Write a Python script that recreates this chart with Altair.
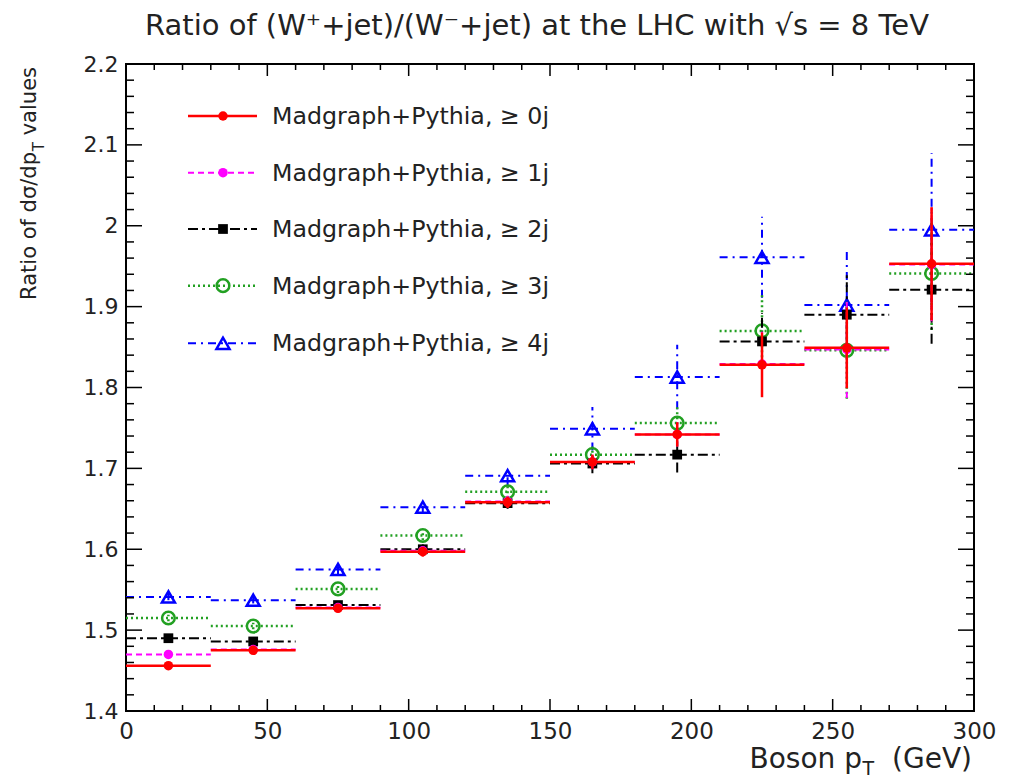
import altair as alt
import pandas as pd

# ---------------- data ----------------
bin_lo = [0, 30, 60, 90, 120, 150, 180, 210, 240, 270]
bin_hi = [30, 60, 90, 120, 150, 180, 210, 240, 270, 300]
bin_center = [15, 45, 75, 105, 135, 165, 195, 225, 255, 285]

labels = ["Madgraph+Pythia, ≥ 0j", "Madgraph+Pythia, ≥ 1j", "Madgraph+Pythia, ≥ 2j",
          "Madgraph+Pythia, ≥ 3j", "Madgraph+Pythia, ≥ 4j"]

ratio_0j = [1.456, 1.475, 1.527, 1.597, 1.658, 1.708, 1.742, 1.828, 1.849, 1.953]
err_0j = [0.004, 0.004, 0.005, 0.006, 0.007, 0.009, 0.015, 0.040, 0.050, 0.070]

ratio_1j = [1.470, 1.476, 1.528, 1.598, 1.659, 1.708, 1.742, 1.829, 1.847, 1.952]
err_1j = [0.004, 0.004, 0.005, 0.006, 0.007, 0.009, 0.015, 0.040, 0.060, 0.070]

ratio_2j = [1.490, 1.486, 1.531, 1.600, 1.657, 1.706, 1.717, 1.857, 1.890, 1.921]
err_2j = [0.004, 0.004, 0.005, 0.006, 0.007, 0.012, 0.022, 0.035, 0.050, 0.067]

ratio_3j = [1.515, 1.505, 1.551, 1.617, 1.671, 1.717, 1.756, 1.870, 1.846, 1.941]
err_3j = [0.004, 0.004, 0.005, 0.006, 0.008, 0.010, 0.020, 0.045, 0.060, 0.070]

ratio_4j = [1.541, 1.537, 1.575, 1.652, 1.691, 1.749, 1.813, 1.961, 1.902, 1.995]
err_4j = [0.004, 0.004, 0.006, 0.008, 0.012, 0.027, 0.040, 0.050, 0.068, 0.095]

x_major = [0, 50, 100, 150, 200, 250, 300]
x_minor = [10, 20, 30, 40, 60, 70, 80, 90, 110, 120, 130, 140, 160, 170, 180, 190,
           210, 220, 230, 240, 260, 270, 280, 290]
y_major = [1.4, 1.5, 1.6, 1.7, 1.8, 1.9, 2.0, 2.1, 2.2]
y_minor = [1.42, 1.44, 1.46, 1.48, 1.52, 1.54, 1.56, 1.58, 1.62, 1.64, 1.66, 1.68,
           1.72, 1.74, 1.76, 1.78, 1.82, 1.84, 1.86, 1.88, 1.92, 1.94, 1.96, 1.98,
           2.02, 2.04, 2.06, 2.08, 2.12, 2.14, 2.16, 2.18]

# ---------------- styles ----------------
W, H = 848, 647
FONT = "DejaVu Sans"

styles = [
    dict(vals=ratio_0j, errs=err_0j, color="#ff0000", dash=None, shape="circle", filled=True, size=90, sw=2.5),
    dict(vals=ratio_1j, errs=err_1j, color="#ff00ff", dash=[6, 4], shape="circle", filled=True, size=90, sw=2),
    dict(vals=ratio_2j, errs=err_2j, color="#000000", dash=[10, 4, 3, 4], shape="square", filled=True, size=95, sw=2),
    dict(vals=ratio_3j, errs=err_3j, color="#22a022", dash=[2, 3], shape="circle", filled=False, size=160, sw=2.5),
    dict(vals=ratio_4j, errs=err_4j, color="#0000ff", dash=[8, 5, 2, 5], shape="triangle-up", filled=False, size=170, sw=2),
]

xscale = alt.Scale(domain=[0, 300], nice=False, zero=False)
yscale = alt.Scale(domain=[1.4, 2.2], nice=False, zero=False)
XAX = alt.Axis(values=x_major, title=None, ticks=False, domain=False, grid=False, labelFlush=False,
               labelFontSize=23, labelFont=FONT, labelPadding=9, labelColor="#222")
YAX = alt.Axis(values=y_major, title=None, ticks=False, domain=False, grid=False, labelFlush=False,
               labelFontSize=22, labelFont=FONT, labelPadding=8, format=".1~f", labelColor="#222")


def X(f):
    return alt.X(f, scale=xscale, axis=XAX)


def Y(f):
    return alt.Y(f, scale=yscale, axis=YAX)


layers = []

# data series (drawn so that red ends on top)
for st in reversed(styles):
    df = pd.DataFrame({
        "lo": bin_lo, "hi": bin_hi, "x": bin_center, "y": st["vals"],
        "ylo": [v - e for v, e in zip(st["vals"], st["errs"])],
        "yhi": [v + e for v, e in zip(st["vals"], st["errs"])],
    })
    rk = dict(color=st["color"], strokeWidth=st["sw"])
    if st["dash"]:
        rk["strokeDash"] = st["dash"]
    hbar = alt.Chart(df).mark_rule(**rk).encode(x=X("lo:Q"), x2="hi:Q", y=Y("y:Q"))
    vbar = alt.Chart(df).mark_rule(**rk).encode(x=X("x:Q"), y=Y("ylo:Q"), y2="yhi:Q")
    pk = dict(shape=st["shape"], size=st["size"], opacity=1, strokeWidth=2.5,
              filled=st["filled"], color=st["color"])
    pts = alt.Chart(df).mark_point(**pk).encode(x=X("x:Q"), y=Y("y:Q"))
    layers += [hbar, vbar, pts]


# inward ticks on all four sides
def xticks(vals, length):
    df = pd.DataFrame({"t": vals})
    bot = alt.Chart(df).mark_rule(color="black", strokeWidth=1.5).encode(
        x=X("t:Q"), y=alt.value(H), y2=alt.value(H - length))
    top = alt.Chart(df).mark_rule(color="black", strokeWidth=1.5).encode(
        x=X("t:Q"), y=alt.value(0), y2=alt.value(length))
    return [bot, top]


def yticks(vals, length):
    df = pd.DataFrame({"t": vals})
    left = alt.Chart(df).mark_rule(color="black", strokeWidth=1.5).encode(
        y=Y("t:Q"), x=alt.value(0), x2=alt.value(length))
    right = alt.Chart(df).mark_rule(color="black", strokeWidth=1.5).encode(
        y=Y("t:Q"), x=alt.value(W), x2=alt.value(W - length))
    return [left, right]


layers += xticks(x_major, 12) + xticks(x_minor, 6) + yticks(y_major, 16) + yticks(y_minor, 8)

# legend
legend_rows = [52, 108.7, 165, 221.7, 279.3]
for st, lab, ry in zip(styles, labels, legend_rows):
    ldf = pd.DataFrame({"label": [lab]})
    rk = dict(color=st["color"], strokeWidth=st["sw"])
    if st["dash"]:
        rk["strokeDash"] = st["dash"]
    layers.append(alt.Chart(ldf).mark_rule(**rk).encode(
        x=alt.value(62), x2=alt.value(131), y=alt.value(ry)))
    pk = dict(shape=st["shape"], size=st["size"], opacity=1, strokeWidth=2.5,
              filled=st["filled"], color=st["color"])
    layers.append(alt.Chart(ldf).mark_point(**pk).encode(x=alt.value(97), y=alt.value(ry)))
    layers.append(alt.Chart(ldf).mark_text(align="left", baseline="middle", font=FONT,
                                           fontSize=23.7, color="#222").encode(
        x=alt.value(146), y=alt.value(ry + 1), text="label:N"))


# titles as text
def txt(s, x, y, size, align="center", baseline="alphabetic", angle=0):
    kw = dict(align=align, baseline=baseline, font=FONT, fontSize=size, color="#222")
    if angle:
        kw["angle"] = angle
    return alt.Chart(pd.DataFrame({"s": [s]})).mark_text(**kw).encode(
        x=alt.value(x), y=alt.value(y), text="s:N")


layers.append(txt("Ratio of (W⁺+jet)/(W⁻+jet) at the LHC with √s = 8 TeV", 411, -29, 29))
# x title: "Boson p_T (GeV)"
layers.append(txt("  (GeV)", 846, 704, 28, align="right"))
layers.append(txt("T", 748, 711, 19, align="right"))
layers.append(txt("Boson p", 736, 704, 28, align="right"))
# y title: "Ratio of dσ/dp_T values"
layers.append(txt(" values", -96, 3, 21, align="right", baseline="middle", angle=270))
layers.append(txt("T", -87, 78, 15, align="right", baseline="middle", angle=270))
layers.append(txt("Ratio of dσ/dp", -96, 88, 21, align="right", baseline="middle", angle=270))

chart = alt.layer(*layers).properties(
    width=W, height=H,
    autosize=alt.AutoSizeParams(type="none"),
    padding={"left": 126, "top": 64, "right": 36, "bottom": 68},
    background="white",
).configure_view(stroke="black", strokeWidth=2)

chart.save("out.html", embed_options={"renderer": "svg", "actions": False})
